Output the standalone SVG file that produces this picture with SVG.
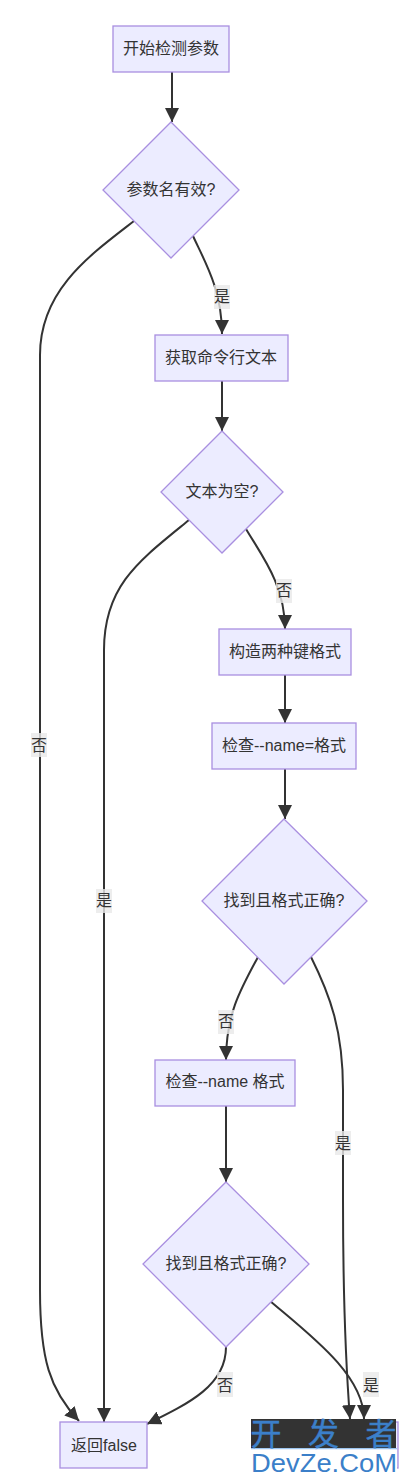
<svg xmlns="http://www.w3.org/2000/svg" width="407" height="1483" viewBox="0 0 407 1483">
<style>
text{font-family:"Liberation Sans","Noto Sans CJK SC",sans-serif;font-size:16px;fill:#333;text-anchor:middle}
.n{fill:#ECECFF;stroke:#A98FE0;stroke-width:1.3}
.e{fill:none;stroke:#333;stroke-width:2}
.lb{fill:#e8e8e8;opacity:.8}
</style>
<defs><marker id="a" markerWidth="14" markerHeight="14" refX="12" refY="6" orient="auto" markerUnits="userSpaceOnUse" viewBox="0 0 12 12"><path d="M0 0L12 6L0 12z" fill="#333"/></marker></defs>
<rect width="407" height="1483" fill="#fff"/>
<g id="connectors">
<path class="e" marker-end="url(#a)" d="M172 72V122"/>
<path class="e" marker-end="url(#a)" d="M134 221C90 255 40 290 40 355V1290C40 1360 50 1390 79 1421"/>
<path class="e" marker-end="url(#a)" d="M193 236C205 262 222 290 222 334"/>
<path class="e" marker-end="url(#a)" d="M222 381V431"/>
<path class="e" marker-end="url(#a)" d="M189 520C140 560 104 585 104 650V1422"/>
<path class="e" marker-end="url(#a)" d="M246 529C262 556 285 585 285 629"/>
<path class="e" marker-end="url(#a)" d="M285 675V723"/>
<path class="e" marker-end="url(#a)" d="M285 769V819"/>
<path class="e" marker-end="url(#a)" d="M258 957C240 990 226 1015 226 1060"/>
<path class="e" marker-end="url(#a)" d="M311 957C330 995 343 1030 343 1090V1200C343 1300 347 1380 350 1419"/>
<path class="e" marker-end="url(#a)" d="M226 1106V1182"/>
<path class="e" marker-end="url(#a)" d="M226 1347C226 1385 190 1403 147 1424"/>
<path class="e" marker-end="url(#a)" d="M270 1301C310 1335 364 1375 364 1419"/>
</g>
<g id="edge-labels">
<rect class="lb" x="214" y="285" width="16" height="24"/><text x="222" y="302">是</text>
<rect class="lb" x="276" y="579" width="16" height="24"/><text x="284" y="596">否</text>
<rect class="lb" x="31" y="733" width="16" height="24"/><text x="39" y="751">否</text>
<rect class="lb" x="96" y="889" width="16" height="24"/><text x="104" y="906">是</text>
<rect class="lb" x="218" y="1010" width="16" height="24"/><text x="226" y="1027">否</text>
<rect class="lb" x="335" y="1131" width="16" height="24"/><text x="343" y="1149">是</text>
<rect class="lb" x="217" y="1372" width="16" height="25"/><text x="225" y="1391">否</text>
<rect class="lb" x="363" y="1372" width="16" height="25"/><text x="371" y="1391">是</text>
</g>
<g id="n1"><rect class="n" x="113" y="26" width="116" height="46"/><text x="171" y="54">开始检测参数</text></g>
<g id="n2"><polygon class="n" points="171,122 239,190 171,258 103,190"/><text x="171" y="195">参数名有效?</text></g>
<g id="n3"><rect class="n" x="155" y="335" width="133" height="46"/><text x="221" y="363">获取命令行文本</text></g>
<g id="n4"><polygon class="n" points="222,431 283,492 222,553 161,492"/><text x="222" y="497">文本为空?</text></g>
<g id="n5"><rect class="n" x="219" y="629" width="132" height="46"/><text x="285" y="657">构造两种键格式</text></g>
<g id="n6"><rect class="n" x="212" y="723" width="144" height="46"/><text x="284" y="751">检查--name=格式</text></g>
<g id="n7"><polygon class="n" points="284,819 367,901 284,984 202,901"/><text x="284" y="906">找到且格式正确?</text></g>
<g id="n8"><rect class="n" x="155" y="1060" width="140" height="46"/><text x="225" y="1087">检查--name 格式</text></g>
<g id="n9"><polygon class="n" points="226,1182 309,1264 226,1347 143,1264"/><text x="226" y="1269">找到且格式正确?</text></g>
<g id="n10"><rect class="n" x="60" y="1422" width="87" height="46"/><text x="104" y="1451">返回false</text></g>
<g id="n11"><rect class="n" x="316" y="1422" width="82" height="46"/></g>
<g id="watermark">
<rect x="251" y="1419" width="145" height="29" fill="#333"/>
<rect x="251" y="1448" width="146" height="1.500" fill="#9cc4ee"/>
<rect x="251" y="1449.500" width="146" height="24" fill="#fff"/>
<text x="323.500" y="1445" style="font-size:31px;fill:#3b7fc9;stroke:#3b7fc9;stroke-width:.4" textLength="146">开 发 者</text>
<text x="324" y="1472" style="font-size:26px;fill:#3b7fc9" textLength="146" lengthAdjust="spacingAndGlyphs">DevZe.CoM</text>
</g>
</svg>
